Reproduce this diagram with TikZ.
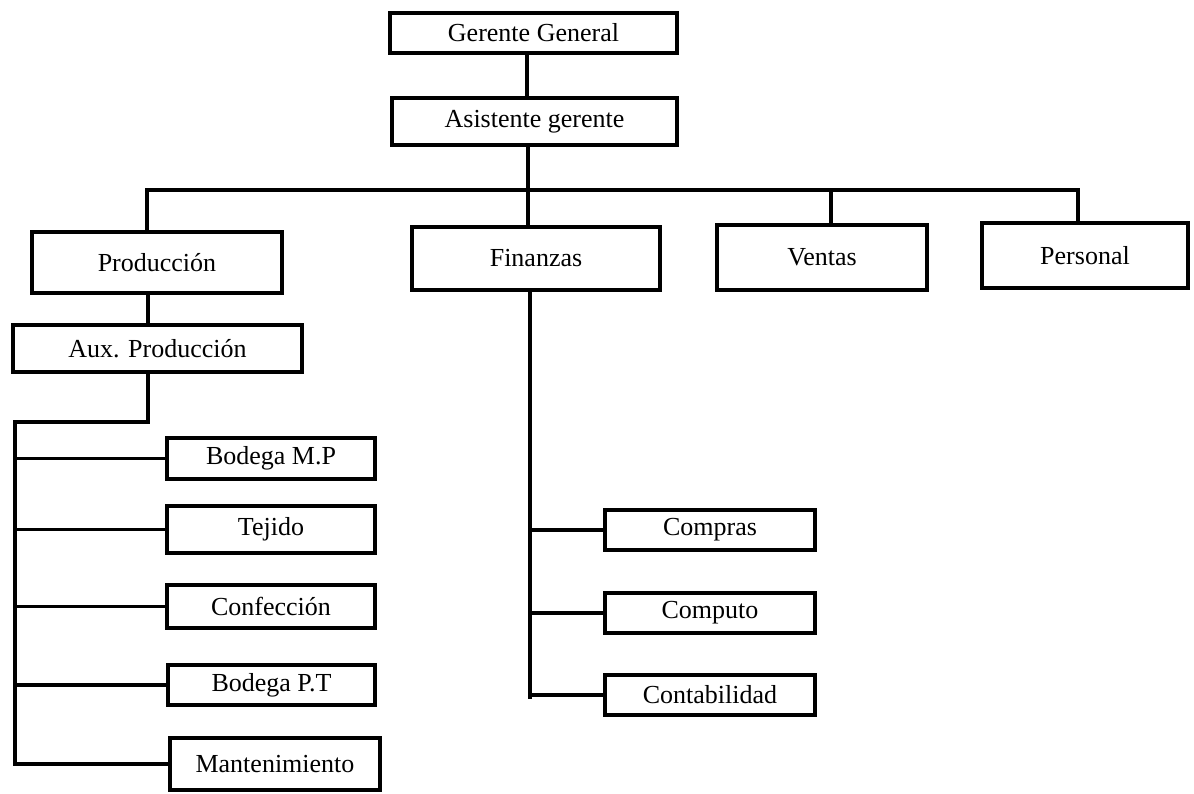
\documentclass[tikz,border=0pt]{standalone}
\usepackage{fontspec}
\setmainfont{Liberation Serif}
\begin{document}
\begin{tikzpicture}[x=1pt,y=-1pt,
  box/.style={draw, line width=3.5pt, rectangle, inner sep=0pt,
    font=\fontsize{26}{30}\selectfont},
  conn/.style={line width=3.5pt, line cap=rect}]
\useasboundingbox[fill=white] (0,0) rectangle (1194,793);

% top management
\node[box, minimum width=287pt, minimum height=40pt] (gg) at (533.5,33) {Gerente General};
\node[box, minimum width=285pt, minimum height=47pt] (ag) at (534.5,121.5) {Asistente gerente};

% departments
\node[box, minimum width=250pt, minimum height=61pt] (prod) at (157,262.5) {Producción};
\node[box, minimum width=248pt, minimum height=63pt] (fin) at (536,258.5) {Finanzas};
\node[box, minimum width=210pt, minimum height=65pt] (ven) at (822,257.5) {Ventas};
\node[box, minimum width=206pt, minimum height=65pt] (per) at (1085,255.5) {Personal};

% production area
\node[box, minimum width=289pt, minimum height=47pt] (aux) at (157.5,348.5) {Aux. Producción};
\node[box, minimum width=208pt, minimum height=41pt] (bmp) at (271,458.5) {Bodega M.P};
\node[box, minimum width=208pt, minimum height=47pt] (tej) at (271,529.5) {Tejido};
\node[box, minimum width=208pt, minimum height=43pt] (conf) at (271,606.5) {Confección};
\node[box, minimum width=207pt, minimum height=40pt] (bpt) at (271.5,685) {Bodega P.T};
\node[box, minimum width=210pt, minimum height=52pt] (mant) at (275,764) {Mantenimiento};

% finance area
\node[box, minimum width=210pt, minimum height=40pt] (comp) at (710,530) {Compras};
\node[box, minimum width=210pt, minimum height=40pt] (cmpt) at (710,613) {Computo};
\node[box, minimum width=210pt, minimum height=40pt] (cont) at (710,695) {Contabilidad};

% bus and spine points
\coordinate (busL) at (147,190);
\coordinate (busR) at (1078,190);
\coordinate (auxK) at (148,422);
\coordinate (spT) at (15,422);
\coordinate (spB) at (15,762);
\coordinate (fsB) at (530,697);

% connectors
\draw[conn] ([xshift=-6.5pt]gg.south) -- ([xshift=-6.5pt]gg.south |- ag.north);
\draw[conn] ([xshift=-6.5pt]ag.south) -- ([xshift=-6.5pt]ag.south |- fin.north);
\draw[conn] (busL) -- (busR);
\draw[conn] (busL) -- (busL |- prod.north);
\draw[conn] (831,190) -- (831,0 |- ven.north);
\draw[conn] (busR) -- (busR |- per.north);
\draw[conn] (prod.south -| 148,0) -- (148,0 |- aux.north);
\draw[conn] (aux.south -| auxK) -- (auxK) -- (spT) -- (spB);
\foreach \b in {bmp,tej,conf,bpt,mant}
  \draw[conn] (spT |- \b.west) -- (\b.west);
\draw[conn] (fin.south -| fsB) -- (fsB);
\foreach \b in {comp,cmpt,cont}
  \draw[conn] (fsB |- \b.west) -- (\b.west);
\end{tikzpicture}
\end{document}
